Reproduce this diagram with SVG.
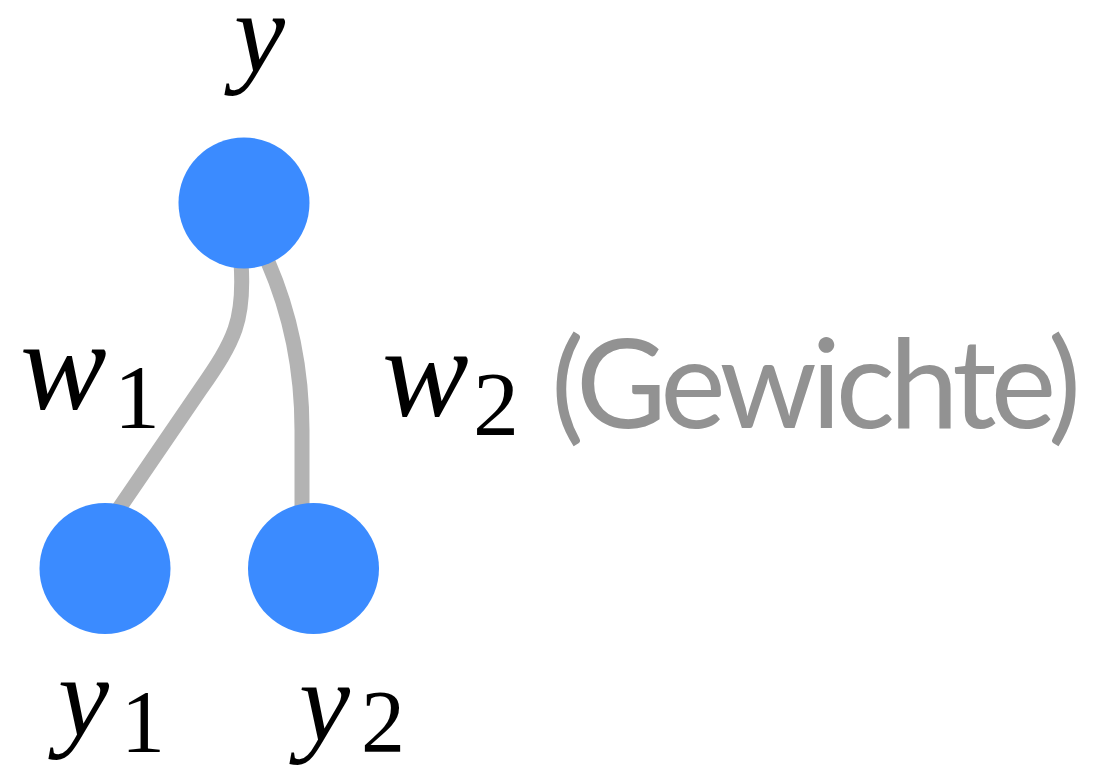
<svg xmlns="http://www.w3.org/2000/svg" width="1093" height="771" viewBox="0 0 1093 771">
<style>
.node{fill:#3b8bff}
.edge{fill:none;stroke:#b3b3b3;stroke-width:15}
.m{font-family:"Liberation Serif",serif;font-style:italic;font-size:130px;fill:#000}
.my{font-size:115px}
.s{font-family:"Liberation Serif",serif;font-size:92px;fill:#000}
.sb{font-size:88px}
.g{font-family:Lato,"Open Sans",sans-serif;font-size:124px;fill:#929292}
</style>
<rect width="1093" height="771" fill="#fff"/>
<g id="connectors">
<path class="edge" d="M241 262 C245 320 235 340 200 390 L118 510"/>
<path class="edge" d="M268 262 Q302 340 302 430 L302 510"/>
</g>
<g id="node-y">
<circle class="node" cx="244" cy="203" r="65.5"/>
<text class="m my" x="234" y="72">y</text>
</g>
<g id="node-y1">
<circle class="node" cx="105" cy="568.5" r="65.5"/>
<text class="m my" x="58" y="736">y</text><text class="s sb" x="121" y="751">1</text>
</g>
<g id="node-y2">
<circle class="node" cx="313.5" cy="568.5" r="65.5"/>
<text class="m my" x="299" y="741">y</text><text class="s sb" x="361" y="751">2</text>
</g>
<g id="label-w1">
<text class="m" x="20" y="409">w</text><text class="s" x="114" y="428">1</text>
</g>
<g id="label-w2">
<text class="m" x="382" y="416">w</text><text class="s" x="473" y="435">2</text>
</g>
<g id="label-gewichte">
<text class="g" x="551" y="428" textLength="530">(Gewichte)</text>
</g>
</svg>
